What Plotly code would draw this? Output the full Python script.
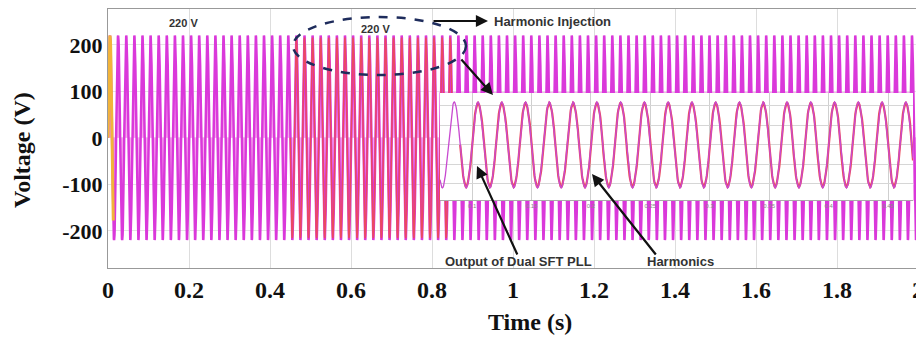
import numpy as np
import plotly.graph_objects as go

# ---- values ----
amplitude_v = 220            # peak of the grid voltage (V)
frequency_hz = 50            # 10 cycles per 0.2 s
t_start, t_end = 0.0, 2.0    # main time span (s)
samples_per_cycle = 40
injection_window = [0.45, 0.85]      # red "harmonic injection" region (s)
startup_window = [0.0, 0.013]        # orange PLL start-up segment (s)
harmonic_orders = [3, 5]
harmonic_ratios = [0.04, 0.02]       # small distortion of the harmonic trace
inset_window = [0.073, 0.471]        # time span shown in the zoomed inset (s)
inset_red_from = 0.09

x_tickvals = [0, 0.2, 0.4, 0.6, 0.8, 1.0, 1.2, 1.4, 1.6, 1.8, 2.0]
x_ticktext = ["0", "0.2", "0.4", "0.6", "0.8", "1", "1.2", "1.4", "1.6", "1.8", "2"]
y_tickvals = [-200, -100, 0, 100, 200]
y_ticktext = ["-200", "-100", "0", "100", "200"]
inset_tickvals = [0.1, 0.15, 0.2, 0.25, 0.3, 0.35, 0.4, 0.45]

# ---- signals built from the read parameters ----
def wave(t0, t1, harmonic=False):
    n = int(round((t1 - t0) * frequency_hz * samples_per_cycle)) + 1
    t = np.linspace(t0, t1, n)
    v = amplitude_v * np.sin(2 * np.pi * frequency_hz * t)
    if harmonic:
        for h, r in zip(harmonic_orders, harmonic_ratios):
            v = v + r * amplitude_v * np.sin(2 * np.pi * h * frequency_hz * t)
    return t, v

t_main, v_main = wave(t_start, t_end)
t_inj, v_inj = wave(*injection_window, harmonic=True)
t_su, v_su = wave(*startup_window)
t_in, v_in = wave(*inset_window)
t_inh, v_inh = wave(inset_red_from, inset_window[1], harmonic=True)

MAG = "#da38da"
PINK = "#f6a8ee"
RED = "#ec4a5a"
ORANGE = "#f2b43a"

fig = go.Figure()
fig.add_trace(go.Scatter(x=t_main, y=v_main, mode="lines",
                         line=dict(color=MAG, width=2.5),
                         fill="tozeroy", fillcolor=PINK, hoverinfo="skip"))
fig.add_trace(go.Scatter(x=t_inj, y=v_inj, mode="lines", opacity=0.95,
                         line=dict(color=RED, width=1.4), hoverinfo="skip"))
fig.add_trace(go.Scatter(x=t_su, y=v_su, mode="lines",
                         line=dict(color=ORANGE, width=3), hoverinfo="skip"))
# inset
fig.add_trace(go.Scatter(x=t_inh, y=v_inh, mode="lines", xaxis="x2", yaxis="y2",
                         line=dict(color=RED, width=2.2), hoverinfo="skip"))
fig.add_trace(go.Scatter(x=t_in, y=v_in, mode="lines", xaxis="x2", yaxis="y2",
                         line=dict(color="#c84ad0", width=1.3), hoverinfo="skip"))

serif = "Liberation Serif"
sans = "Liberation Sans"

OFF = 8                       # page body margin of the browser
FIG_W, FIG_H = 924 - OFF, 338 - OFF
# plot area in screen pixels
L, R, T, B = 108, 918, 9, 268
W, H = R - L, B - T
def px(x):
    return (x - L) / W
def py(y):
    return (B - y) / H

fig.update_layout(
    width=FIG_W, height=FIG_H,
    margin=dict(l=L - OFF, r=FIG_W - (R - OFF), t=T - OFF, b=FIG_H - (B - OFF),
                autoexpand=False),
    paper_bgcolor="white", plot_bgcolor="white",
    showlegend=False,
    xaxis=dict(range=[t_start, t_end], tickvals=x_tickvals, ticktext=x_ticktext,
               tickfont=dict(family=serif, size=24, color="#111", weight="bold"),
               showgrid=True, gridcolor="#dddddd", gridwidth=1, automargin=False,
               showline=True, linecolor="#999999", mirror=True, ticks="",
               zeroline=False),
    yaxis=dict(range=[-280, 277], tickvals=y_tickvals, ticktext=y_ticktext,
               tickfont=dict(family=serif, size=22, color="#111", weight="bold"),
               showgrid=True, gridcolor="#e4e4e4", gridwidth=1, automargin=False,
               showline=True, linecolor="#999999", mirror=True, ticks="",
               zeroline=False),
    xaxis2=dict(domain=[px(440), px(913)], anchor="y2", range=inset_window,
                tickvals=inset_tickvals, ticks="", automargin=False,
                tickfont=dict(family=sans, size=6, color="#888"),
                showgrid=True, gridcolor="#cfcfcf", showline=True,
                linecolor="#aaaaaa", zeroline=False),
    yaxis2=dict(domain=[py(200), py(93)], anchor="x2", range=[-282, 266],
                dtick=100, showticklabels=False, ticks="", automargin=False,
                showgrid=True, gridcolor="#d6d6d6", zeroline=False,
                showline=False),
)

fig.add_shape(type="rect", xref="x2 domain", yref="y2 domain",
              x0=0, x1=1, y0=0, y1=1, layer="below",
              fillcolor="white", line=dict(color="#f09ae8", width=1.5))

# dashed ellipse
fig.add_shape(type="circle", xref="paper", yref="paper",
              x0=px(293), x1=px(466), y0=py(75), y1=py(17),
              line=dict(color="#1e2c5c", width=2.5, dash="dash"))

lab = dict(family=sans, size=12, color="#333333", weight="bold")
def text(x, y, s, anchor="center", size=12):
    f = dict(lab); f["size"] = size
    fig.add_annotation(x=px(x), y=py(y), xref="paper", yref="paper", text=s,
                       showarrow=False, xanchor=anchor, yanchor="middle", font=f)

text(183, 23, "220 V", size=11)
text(375, 29, "220 V", size=11)
text(492, 21, "Harmonic Injection", anchor="left", size=13)
text(443, 261, "Output of Dual SFT PLL", anchor="left", size=13)
text(645, 261, "Harmonics", anchor="left", size=13)

def arrow(x0, y0, x1, y1):
    fig.add_annotation(x=px(x1), y=py(y1), xref="paper", yref="paper",
                       ax=x0 - x1, ay=y0 - y1, axref="pixel", ayref="pixel",
                       text="", showarrow=True, arrowhead=2, arrowsize=1.1,
                       arrowwidth=2.2, arrowcolor="#111111")

arrow(432, 21, 488, 21)
arrow(460, 58, 493, 95)
arrow(518, 256, 477, 166)
arrow(657, 256, 592, 174)

fig.add_annotation(x=px(22), y=py(150), xref="paper", yref="paper",
                   xanchor="center", yanchor="middle",
                   text="Voltage (V)", textangle=-90, showarrow=False,
                   font=dict(family=serif, size=24, color="#111", weight="bold"))
fig.add_annotation(x=px(530), y=py(322), xref="paper", yref="paper",
                   xanchor="center", yanchor="middle",
                   text="Time (s)", showarrow=False,
                   font=dict(family=serif, size=24, color="#111", weight="bold"))

fig.write_html("out.html")
